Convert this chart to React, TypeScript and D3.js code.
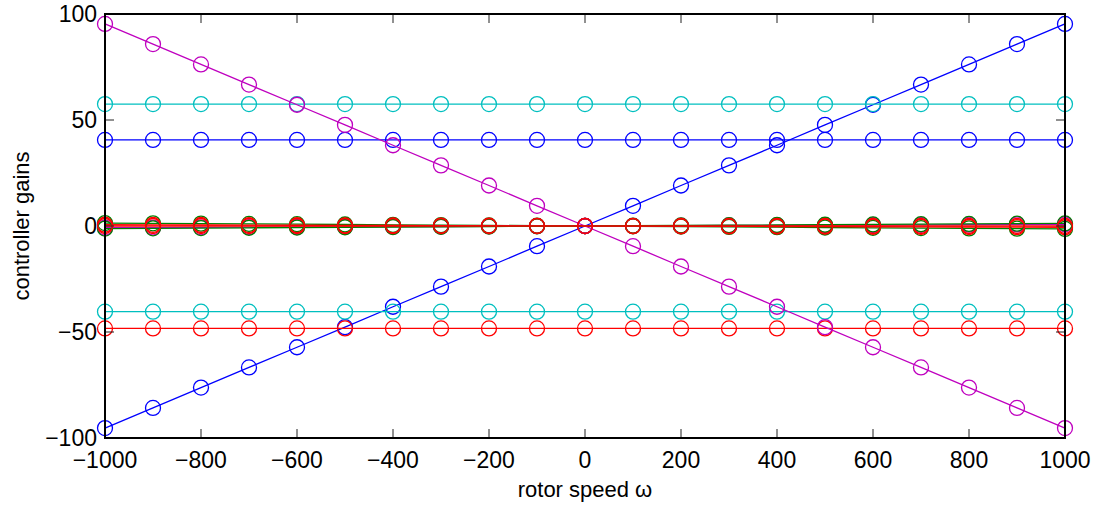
import React from "react";
import * as d3 from "d3";

const omega = [-1000, -900, -800, -700, -600, -500, -400, -300, -200, -100, 0, 100, 200, 300, 400, 500, 600, 700, 800, 900, 1000];

const blueRamp = [-95.3, -85.8, -76.2, -66.7, -57.2, -47.7, -38.1, -28.6, -19.1, -9.5, 0, 9.5, 19.1, 28.6, 38.1, 47.7, 57.2, 66.7, 76.2, 85.8, 95.3];
const greenA = [1.4, 1.26, 1.12, 0.98, 0.84, 0.7, 0.56, 0.42, 0.28, 0.14, 0, -0.14, -0.28, -0.42, -0.56, -0.7, -0.84, -0.98, -1.12, -1.26, -1.4];
const redA = [0.6, 0.54, 0.48, 0.42, 0.36, 0.3, 0.24, 0.18, 0.12, 0.06, 0, -0.06, -0.12, -0.18, -0.24, -0.3, -0.36, -0.42, -0.48, -0.54, -0.6];
const cyanHigh = [57.5, 57.5, 57.5, 57.5, 57.5, 57.5, 57.5, 57.5, 57.5, 57.5, 57.5, 57.5, 57.5, 57.5, 57.5, 57.5, 57.5, 57.5, 57.5, 57.5, 57.5];
const magentaSmall = [-0.8, -0.72, -0.64, -0.56, -0.48, -0.4, -0.32, -0.24, -0.16, -0.08, 0, 0.08, 0.16, 0.24, 0.32, 0.4, 0.48, 0.56, 0.64, 0.72, 0.8];
const blueConst = [40.6, 40.6, 40.6, 40.6, 40.6, 40.6, 40.6, 40.6, 40.6, 40.6, 40.6, 40.6, 40.6, 40.6, 40.6, 40.6, 40.6, 40.6, 40.6, 40.6, 40.6];
const greenB = [-1.2, -1.08, -0.96, -0.84, -0.72, -0.6, -0.48, -0.36, -0.24, -0.12, 0, 0.12, 0.24, 0.36, 0.48, 0.6, 0.72, 0.84, 0.96, 1.08, 1.2];
const redLow = [-48.3, -48.3, -48.3, -48.3, -48.3, -48.3, -48.3, -48.3, -48.3, -48.3, -48.3, -48.3, -48.3, -48.3, -48.3, -48.3, -48.3, -48.3, -48.3, -48.3, -48.3];
const cyanLow = [-40.4, -40.4, -40.4, -40.4, -40.4, -40.4, -40.4, -40.4, -40.4, -40.4, -40.4, -40.4, -40.4, -40.4, -40.4, -40.4, -40.4, -40.4, -40.4, -40.4, -40.4];
const magentaRamp = [95.3, 85.8, 76.2, 66.7, 57.2, 47.7, 38.1, 28.6, 19.1, 9.5, 0, -9.5, -19.1, -28.6, -38.1, -47.7, -57.2, -66.7, -76.2, -85.8, -95.3];
const redZero = [0, 0, 0, 0, 0, 0, 0, 0, 0, 0, 0, 0, 0, 0, 0, 0, 0, 0, 0, 0, 0];

const series = [
  { values: blueRamp, color: "#0000ff" },
  { values: greenA, color: "#008000" },
  { values: redA, color: "#ff0000" },
  { values: cyanHigh, color: "#00bfbf" },
  { values: magentaSmall, color: "#bf00bf" },
  { values: blueConst, color: "#0000ff" },
  { values: greenB, color: "#008000" },
  { values: redLow, color: "#ff0000" },
  { values: cyanLow, color: "#00bfbf" },
  { values: magentaRamp, color: "#bf00bf" },
  { values: redZero, color: "#ff0000" },
];

const xTicks = [-1000, -800, -600, -400, -200, 0, 200, 400, 600, 800, 1000];
const yTicks = [-100, -50, 0, 50, 100];

const W = 1108;
const H = 506;
const L = 105, R = 1065, T = 14, B = 438;
const FONT = "'Liberation Sans', Arial, Helvetica, sans-serif";

const fmt = (v: number) => (v < 0 ? "\u2212" + Math.abs(v) : String(v));

export default function App() {
  const x = d3.scaleLinear().domain([-1000, 1000]).range([L, R]);
  const y = d3.scaleLinear().domain([-100, 100]).range([B, T]);
  const line = d3
    .line<number>()
    .x((_, i) => x(omega[i]))
    .y((d) => y(d));
  const tl = 9;

  return (
    <svg width={W} height={H} style={{ position: "absolute", left: 0, top: 0, background: "#fff" }} fontFamily={FONT}>
      <rect x={0} y={0} width={W} height={H} fill="#fff" />
      {series.map((s, si) => (
        <g key={si}>
          <path d={line(s.values) || ""} fill="none" stroke={s.color} strokeWidth={1.3} />
          {s.values.map((v, i) => (
            <circle key={i} cx={x(omega[i])} cy={y(v)} r={7.5} fill="none" stroke={s.color} strokeWidth={1.3} />
          ))}
        </g>
      ))}
      {xTicks.map((t) => (
        <g key={"xt" + t}>
          <line x1={x(t)} x2={x(t)} y1={B} y2={B - tl} stroke="#222" strokeWidth={1} />
          <line x1={x(t)} x2={x(t)} y1={T} y2={T + tl} stroke="#222" strokeWidth={1} />
          <text x={x(t)} y={468} textAnchor="middle" fontSize={23} fill="#000">
            {fmt(t)}
          </text>
        </g>
      ))}
      {yTicks.map((t) => (
        <g key={"yt" + t}>
          <line x1={L} x2={L + tl} y1={y(t)} y2={y(t)} stroke="#222" strokeWidth={1} />
          <line x1={R} x2={R - tl} y1={y(t)} y2={y(t)} stroke="#222" strokeWidth={1} />
          <text x={97} y={y(t) + 8} textAnchor="end" fontSize={23} fill="#000">
            {fmt(t)}
          </text>
        </g>
      ))}
      <rect x={L} y={T} width={R - L} height={B - T} fill="none" stroke="#000" strokeWidth={2} />
      <text x={(L + R) / 2} y={497} textAnchor="middle" fontSize={22} fill="#000">
        rotor speed ω
      </text>
      <text transform={`translate(29, ${(T + B) / 2}) rotate(-90)`} textAnchor="middle" fontSize={22} fill="#000">
        controller gains
      </text>
    </svg>
  );
}
